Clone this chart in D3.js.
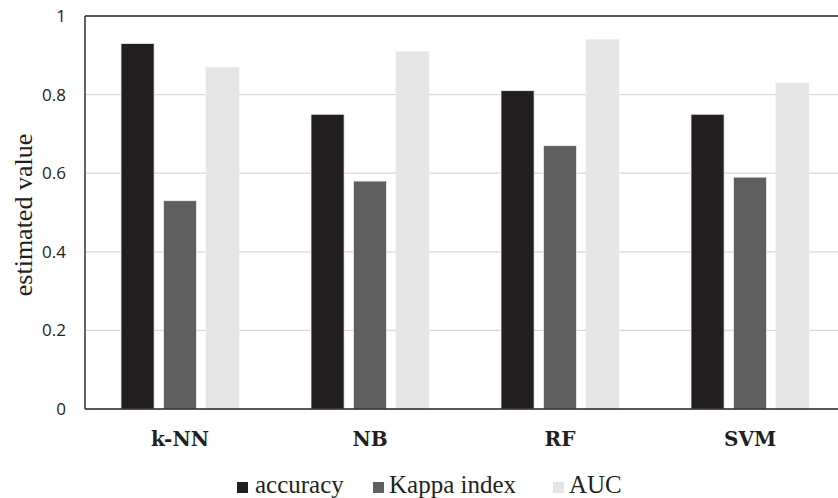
<!DOCTYPE html>
<html>
<head>
<meta charset="utf-8">
<script src="https://cdn.jsdelivr.net/npm/d3@7"></script>
<style>
body { margin: 0; background: #fff; }
</style>
</head>
<body>
<script>
var categories = ["k-NN", "NB", "RF", "SVM"];
var seriesNames = ["accuracy", "Kappa index", "AUC"];
var accuracy = [0.93, 0.75, 0.81, 0.75];
var kappa = [0.53, 0.58, 0.67, 0.59];
var auc = [0.87, 0.91, 0.94, 0.83];
var yTicks = [0, 0.2, 0.4, 0.6, 0.8, 1];

var colors = ["#231f20", "#5f5f5f", "#e5e5e5"];
var width = 838;
var height = 498;

var svg = d3.select("body")
  .append("svg")
  .attr("width", width)
  .attr("height", height);

// plot runs past the right edge, like the cropped original
var plotLeft = 85, plotRight = 845, plotTop = 16, plotBottom = 409;

var x = d3.scaleBand().domain(categories).range([plotLeft, plotRight]);
var x1 = d3.scaleBand().domain(seriesNames).range([36, 154]).paddingInner(0.22);
var y = d3.scaleLinear().domain([0, 1]).range([plotBottom, plotTop]);

// gridlines
svg.append("g").selectAll("line")
  .data(yTicks.filter(d => d > 0 && d < 1))
  .enter().append("line")
  .attr("x1", plotLeft).attr("x2", plotRight)
  .attr("y1", d => y(d)).attr("y2", d => y(d))
  .attr("stroke", "#d9d9d9").attr("stroke-width", 1.2);

var rows = categories.map((c, i) => ({ cat: c, vals: [accuracy[i], kappa[i], auc[i]] }));

var groups = svg.append("g").selectAll("g")
  .data(rows)
  .enter().append("g")
  .attr("transform", d => `translate(${x(d.cat)},0)`);

groups.selectAll("rect")
  .data(d => d.vals.map((v, k) => ({ name: seriesNames[k], v: v, k: k })))
  .enter().append("rect")
  .attr("x", d => x1(d.name))
  .attr("width", x1.bandwidth())
  .attr("y", d => y(d.v))
  .attr("height", d => plotBottom - y(d.v))
  .attr("fill", d => colors[d.k])
  .attr("stroke", "#eeeeee")
  .attr("stroke-width", 0.8);

// frame: left, top, bottom
var frame = [[plotLeft, plotTop, plotRight, plotTop], [plotLeft, plotBottom, plotRight, plotBottom], [plotLeft, plotTop, plotLeft, plotBottom]];
svg.append("g").selectAll("line")
  .data(frame)
  .enter().append("line")
  .attr("x1", d => d[0]).attr("y1", d => d[1])
  .attr("x2", d => d[2]).attr("y2", d => d[3])
  .attr("stroke", "#231f20").attr("stroke-width", 1.4);

// y tick labels
svg.append("g").selectAll("text")
  .data(yTicks)
  .enter().append("text")
  .attr("x", 66)
  .attr("y", d => y(d))
  .attr("dy", "0.35em")
  .attr("text-anchor", "end")
  .attr("font-family", "Open Sans, sans-serif")
  .attr("font-size", "17px")
  .attr("fill", "#231f20")
  .text(d => d3.format("~g")(d));

// category labels
svg.append("g").selectAll("text")
  .data(categories)
  .enter().append("text")
  .attr("x", d => x(d) + x.bandwidth() / 2)
  .attr("y", 446)
  .attr("text-anchor", "middle")
  .attr("font-family", "'DejaVu Serif', serif")
  .attr("font-weight", "bold")
  .attr("font-size", "20px")
  .attr("fill", "#231f20")
  .text(d => d);

// y title
svg.append("text")
  .attr("transform", "translate(32,215) rotate(-90)")
  .attr("text-anchor", "middle")
  .attr("font-family", "'Liberation Serif', serif")
  .attr("font-size", "26px")
  .attr("fill", "#231f20")
  .text("estimated value");

// legend
var legendX = [237, 373, 553];
var legend = svg.append("g").selectAll("g")
  .data(seriesNames)
  .enter().append("g")
  .attr("transform", (d, i) => `translate(${legendX[i]},482)`);
legend.append("rect")
  .attr("width", 11).attr("height", 11)
  .attr("fill", (d, i) => colors[i]);
legend.append("text")
  .attr("x", (d, i) => i === 0 ? 18 : 16)
  .attr("y", 11)
  .attr("font-family", "'Liberation Serif', serif")
  .attr("font-size", "25px")
  .attr("fill", "#231f20")
  .text(d => d);
</script>
</body>
</html>
